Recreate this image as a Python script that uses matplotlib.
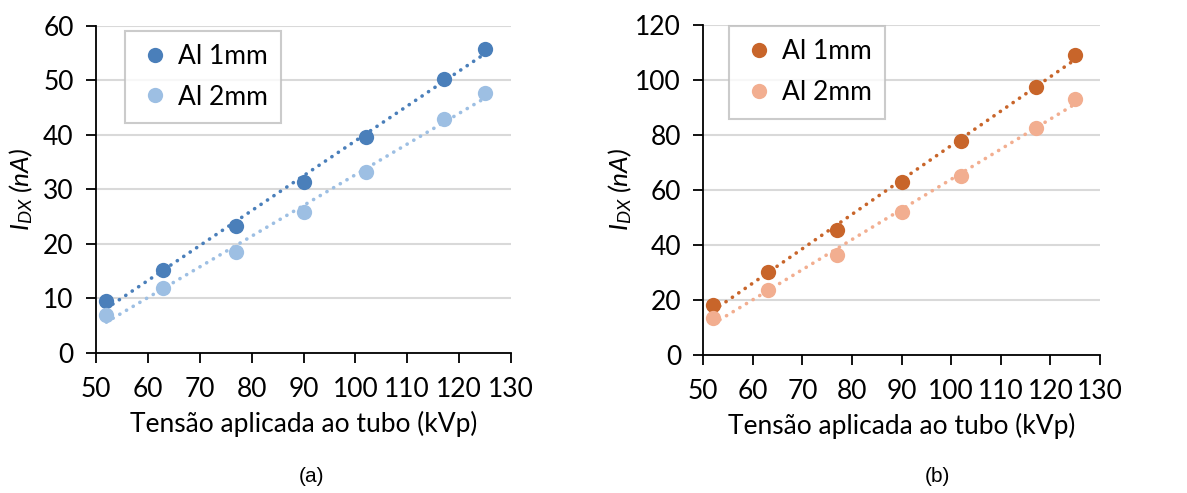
import numpy as np
import matplotlib.pyplot as plt

plt.rcParams['font.family'] = ['Lato', 'DejaVu Sans']
plt.rcParams['mathtext.fontset'] = 'custom'
plt.rcParams['mathtext.it'] = 'Lato:italic'
plt.rcParams['mathtext.rm'] = 'Lato'

# tube voltage (kVp)
kvp = [52, 63, 77, 90, 102, 117, 125]

# panel (a)
a_al1 = [9.5, 15.2, 23.2, 31.3, 39.6, 50.2, 55.8]
a_al2 = [7.0, 11.9, 18.6, 25.9, 33.2, 42.8, 47.6]
# panel (b)
b_al1 = [18.0, 30.0, 45.3, 62.8, 77.8, 97.3, 109.0]
b_al2 = [13.6, 23.5, 36.3, 51.8, 65.0, 82.6, 93.1]

xticks = [50, 60, 70, 80, 90, 100, 110, 120, 130]
labels = ['Al 1mm', 'Al 2mm']
fs = 19

fig = plt.figure(figsize=(11.87, 4.93), dpi=100)
ax1 = fig.add_axes([0.0809, 0.284, 0.3496, 0.664])
ax2 = fig.add_axes([0.5925, 0.280, 0.3342, 0.670])


def panel(ax, y1, y2, c1, c2, ymax, ystep, leg_anchor, ypad):
    x = np.array(kvp, dtype=float)
    for y, c, lab in [(y1, c1, labels[0]), (y2, c2, labels[1])]:
        p = np.polyfit(x, y, 1)
        xx = np.array([x.min(), x.max()])
        ax.plot(xx, np.polyval(p, xx), color=c, lw=2.6, ls=(0, (0.05, 2.1)),
                dash_capstyle='round', zorder=2)
        ax.plot(x, y, 'o', color=c, ms=11, label=lab, zorder=3, mec='none')
    ax.set_xlim(50, 130)
    ax.set_ylim(0, ymax)
    ax.set_xticks(xticks)
    ax.set_yticks(np.arange(0, ymax + 1, ystep))
    ax.tick_params(labelsize=fs, length=7, width=1.3, color='black', direction='out')
    ax.tick_params(axis='x', pad=10)
    ax.tick_params(axis='y', pad=9)
    ax.grid(axis='y', color='#d9d9d9', lw=1.5)
    ax.set_axisbelow(True)
    for s in ['top', 'right']:
        ax.spines[s].set_visible(False)
    for s in ['left', 'bottom']:
        ax.spines[s].set_linewidth(1.3)
    ax.set_xlabel('Tensão aplicada ao tubo (kVp)', fontsize=fs, labelpad=7)
    ax.set_ylabel(r'$I_{DX}$ (nA)', fontsize=fs, fontstyle='italic', labelpad=ypad)
    leg = ax.legend(loc='upper left', bbox_to_anchor=leg_anchor, fontsize=fs,
                    frameon=True, fancybox=False, edgecolor='#bfbfbf',
                    handletextpad=0.2, borderpad=0.5, labelspacing=0.6,
                    handlelength=1.3, borderaxespad=0)
    leg.get_frame().set_linewidth(1.5)


panel(ax1, a_al1, a_al2, '#4a7fba', '#9dbfe3', 60, 10, (0.07, 0.985), 6)
panel(ax2, b_al1, b_al2, '#c8652a', '#f2ae90', 120, 20, (0.065, 0.995), 1)

fig.text(311 / 1187, 1 - 477 / 493, '(a)', fontsize=15, family='Liberation Sans',
         ha='center', va='center')
fig.text(937 / 1187, 1 - 477 / 493, '(b)', fontsize=15, family='Liberation Sans',
         ha='center', va='center')

fig.savefig('out.png', dpi=100)
